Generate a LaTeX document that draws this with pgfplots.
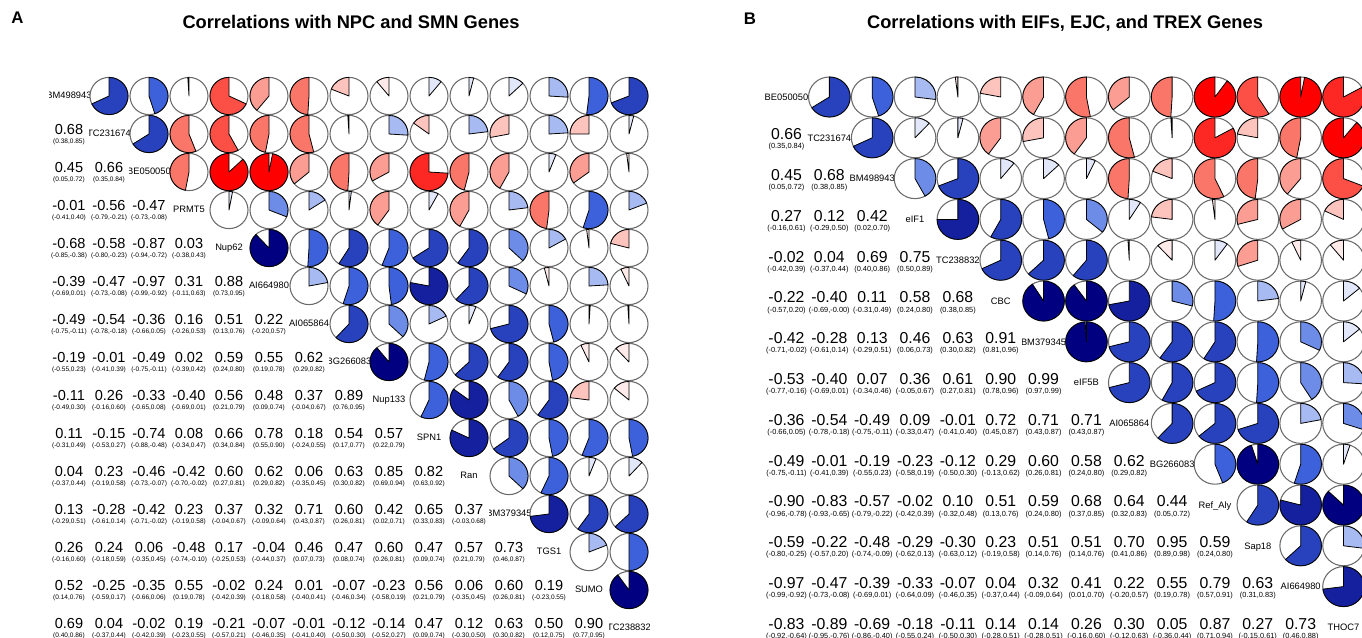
\documentclass[border=0pt]{standalone}
\usepackage{fontspec}
\setmainfont{Liberation Sans}
\usepackage{pgfplots}
\usepackage{pgfplotstable}
\pgfplotsset{compat=1.18}
\protected\def\us{\textunderscore}
\pgfdeclareplotmark{nothing}{}
% corrgram palette (red, salmon, white, royalblue, navy) in 14 bins
\definecolor{pc1}{RGB}{255,0,0}
\definecolor{pc2}{RGB}{253,39,35}
\definecolor{pc3}{RGB}{252,79,70}
\definecolor{pc4}{RGB}{250,118,105}
\definecolor{pc5}{RGB}{251,157,147}
\definecolor{pc6}{RGB}{253,196,190}
\definecolor{pc7}{RGB}{254,235,233}
\definecolor{pc8}{RGB}{226,232,250}
\definecolor{pc9}{RGB}{167,186,241}
\definecolor{pc10}{RGB}{109,140,232}
\definecolor{pc11}{RGB}{60,97,218}
\definecolor{pc12}{RGB}{40,65,188}
\definecolor{pc13}{RGB}{20,32,158}
\definecolor{pc14}{RGB}{0,0,128}
\newcommand\drawpie[3]{%
  \edef\pv{#1}%
  \pgfmathsetmacro\absr{abs(\pv)}%
  \pgfmathtruncatemacro\pidx{max(1,min(14,ceil((\pv+1)*7)))}%
  \draw[black!58, line width=0.8pt] (0pt,0pt) ellipse[x radius=#2, y radius=#3];
  \ifdim\absr pt>0.008pt
    \filldraw[fill=pc\pidx, draw=black, line width=0.6pt, line join=round]
      (0pt,0pt) -- (0pt,#3) arc[start angle=90, end angle={90-360*(\pv)}, x radius=#2, y radius=#3] -- cycle;
  \fi
}
\newcommand\cliplabel[3]{% half width, half height, baseline shift
  \begin{pgfscope}
  \pgfpathrectanglecorners{\pgfpoint{-#1}{-#2}}{\pgfpoint{#1}{#2}}%
  \pgfusepath{clip}%
  \node[inner sep=0pt, anchor=base, draw=none, fill=none, font=\fontsize{7pt}{8pt}\selectfont] at (0pt,#3) {\pgfplotspointmeta};
  \end{pgfscope}}
\newcommand\mkci[1]{%
  \pgfplotstablecreatecol[create col/assign/.code={%
    \getthisrow{lo}\cilo
    \getthisrow{hi}\cihi
    \edef\cientry{(\cilo,\cihi)}%
    \pgfkeyslet{/pgfplots/table/create col/next content}\cientry}]{ci}{#1}}
\pgfplotstableread{
row col r lo hi
2 1 0.68 0.38 0.85
3 1 0.45 0.05 0.72
3 2 0.66 0.35 0.84
4 1 -0.01 -0.41 0.40
4 2 -0.56 -0.79 -0.21
4 3 -0.47 -0.73 -0.08
5 1 -0.68 -0.85 -0.38
5 2 -0.58 -0.80 -0.23
5 3 -0.87 -0.94 -0.72
5 4 0.03 -0.38 0.43
6 1 -0.39 -0.69 0.01
6 2 -0.47 -0.73 -0.08
6 3 -0.97 -0.99 -0.92
6 4 0.31 -0.11 0.63
6 5 0.88 0.73 0.95
7 1 -0.49 -0.75 -0.11
7 2 -0.54 -0.78 -0.18
7 3 -0.36 -0.66 0.05
7 4 0.16 -0.26 0.53
7 5 0.51 0.13 0.76
7 6 0.22 -0.20 0.57
8 1 -0.19 -0.55 0.23
8 2 -0.01 -0.41 0.39
8 3 -0.49 -0.75 -0.11
8 4 0.02 -0.39 0.42
8 5 0.59 0.24 0.80
8 6 0.55 0.19 0.78
8 7 0.62 0.29 0.82
9 1 -0.11 -0.49 0.30
9 2 0.26 -0.16 0.60
9 3 -0.33 -0.65 0.08
9 4 -0.40 -0.69 0.01
9 5 0.56 0.21 0.79
9 6 0.48 0.09 0.74
9 7 0.37 -0.04 0.67
9 8 0.89 0.76 0.95
10 1 0.11 -0.31 0.49
10 2 -0.15 -0.53 0.27
10 3 -0.74 -0.88 -0.48
10 4 0.08 -0.34 0.47
10 5 0.66 0.34 0.84
10 6 0.78 0.55 0.90
10 7 0.18 -0.24 0.55
10 8 0.54 0.17 0.77
10 9 0.57 0.22 0.79
11 1 0.04 -0.37 0.44
11 2 0.23 -0.19 0.58
11 3 -0.46 -0.73 -0.07
11 4 -0.42 -0.70 -0.02
11 5 0.60 0.27 0.81
11 6 0.62 0.29 0.82
11 7 0.06 -0.35 0.45
11 8 0.63 0.30 0.82
11 9 0.85 0.69 0.94
11 10 0.82 0.63 0.92
12 1 0.13 -0.29 0.51
12 2 -0.28 -0.61 0.14
12 3 -0.42 -0.71 -0.02
12 4 0.23 -0.19 0.58
12 5 0.37 -0.04 0.67
12 6 0.32 -0.09 0.64
12 7 0.71 0.43 0.87
12 8 0.60 0.26 0.81
12 9 0.42 0.02 0.71
12 10 0.65 0.33 0.83
12 11 0.37 -0.03 0.68
13 1 0.26 -0.16 0.60
13 2 0.24 -0.18 0.59
13 3 0.06 -0.35 0.45
13 4 -0.48 -0.74 -0.10
13 5 0.17 -0.25 0.53
13 6 -0.04 -0.44 0.37
13 7 0.46 0.07 0.73
13 8 0.47 0.08 0.74
13 9 0.60 0.26 0.81
13 10 0.47 0.09 0.74
13 11 0.57 0.21 0.79
13 12 0.73 0.46 0.87
14 1 0.52 0.14 0.76
14 2 -0.25 -0.59 0.17
14 3 -0.35 -0.66 0.06
14 4 0.55 0.19 0.78
14 5 -0.02 -0.42 0.39
14 6 0.24 -0.18 0.58
14 7 0.01 -0.40 0.41
14 8 -0.07 -0.46 0.34
14 9 -0.23 -0.58 0.19
14 10 0.56 0.21 0.79
14 11 0.06 -0.35 0.45
14 12 0.60 0.26 0.81
14 13 0.19 -0.23 0.55
15 1 0.69 0.40 0.86
15 2 0.04 -0.37 0.44
15 3 -0.02 -0.42 0.39
15 4 0.19 -0.23 0.55
15 5 -0.21 -0.57 0.21
15 6 -0.07 -0.46 0.35
15 7 -0.01 -0.41 0.40
15 8 -0.12 -0.50 0.30
15 9 -0.14 -0.52 0.27
15 10 0.47 0.09 0.74
15 11 0.12 -0.30 0.50
15 12 0.63 0.30 0.82
15 13 0.50 0.12 0.75
15 14 0.90 0.77 0.95
}\corrA
\pgfplotstableread{
row col r lo hi
2 1 0.66 0.35 0.84
3 1 0.45 0.05 0.72
3 2 0.68 0.38 0.85
4 1 0.27 -0.16 0.61
4 2 0.12 -0.29 0.50
4 3 0.42 0.02 0.70
5 1 -0.02 -0.42 0.39
5 2 0.04 -0.37 0.44
5 3 0.69 0.40 0.86
5 4 0.75 0.50 0.89
6 1 -0.22 -0.57 0.20
6 2 -0.40 -0.69 -0.00
6 3 0.11 -0.31 0.49
6 4 0.58 0.24 0.80
6 5 0.68 0.38 0.85
7 1 -0.42 -0.71 -0.02
7 2 -0.28 -0.61 0.14
7 3 0.13 -0.29 0.51
7 4 0.46 0.06 0.73
7 5 0.63 0.30 0.82
7 6 0.91 0.81 0.96
8 1 -0.53 -0.77 -0.16
8 2 -0.40 -0.69 0.01
8 3 0.07 -0.34 0.46
8 4 0.36 -0.05 0.67
8 5 0.61 0.27 0.81
8 6 0.90 0.78 0.96
8 7 0.99 0.97 0.99
9 1 -0.36 -0.66 0.05
9 2 -0.54 -0.78 -0.18
9 3 -0.49 -0.75 -0.11
9 4 0.09 -0.33 0.47
9 5 -0.01 -0.41 0.40
9 6 0.72 0.45 0.87
9 7 0.71 0.43 0.87
9 8 0.71 0.43 0.87
10 1 -0.49 -0.75 -0.11
10 2 -0.01 -0.41 0.39
10 3 -0.19 -0.55 0.23
10 4 -0.23 -0.58 0.19
10 5 -0.12 -0.50 0.30
10 6 0.29 -0.13 0.62
10 7 0.60 0.26 0.81
10 8 0.58 0.24 0.80
10 9 0.62 0.29 0.82
11 1 -0.90 -0.96 -0.78
11 2 -0.83 -0.93 -0.65
11 3 -0.57 -0.79 -0.22
11 4 -0.02 -0.42 0.39
11 5 0.10 -0.32 0.48
11 6 0.51 0.13 0.76
11 7 0.59 0.24 0.80
11 8 0.68 0.37 0.85
11 9 0.64 0.32 0.83
11 10 0.44 0.05 0.72
12 1 -0.59 -0.80 -0.25
12 2 -0.22 -0.57 0.20
12 3 -0.48 -0.74 -0.09
12 4 -0.29 -0.62 0.13
12 5 -0.30 -0.63 0.12
12 6 0.23 -0.19 0.58
12 7 0.51 0.14 0.76
12 8 0.51 0.14 0.76
12 9 0.70 0.41 0.86
12 10 0.95 0.89 0.98
12 11 0.59 0.24 0.80
13 1 -0.97 -0.99 -0.92
13 2 -0.47 -0.73 -0.08
13 3 -0.39 -0.69 0.01
13 4 -0.33 -0.64 0.09
13 5 -0.07 -0.46 0.35
13 6 0.04 -0.37 0.44
13 7 0.32 -0.09 0.64
13 8 0.41 0.01 0.70
13 9 0.22 -0.20 0.57
13 10 0.55 0.19 0.78
13 11 0.79 0.57 0.91
13 12 0.63 0.31 0.83
14 1 -0.83 -0.92 -0.64
14 2 -0.89 -0.95 -0.76
14 3 -0.69 -0.86 -0.40
14 4 -0.18 -0.55 0.24
14 5 -0.11 -0.50 0.30
14 6 0.14 -0.28 0.51
14 7 0.14 -0.28 0.51
14 8 0.26 -0.16 0.60
14 9 0.30 -0.12 0.63
14 10 0.05 -0.36 0.44
14 11 0.87 0.71 0.94
14 12 0.27 -0.15 0.61
14 13 0.73 0.46 0.88
}\corrB
\mkci{\corrA}
\mkci{\corrB}
\pgfplotstableread{
idx name
1 BM498943
2 TC231674
3 BE050050
4 PRMT5
5 Nup62
6 AI664980
7 AI065864
8 BG266083
9 Nup133
10 SPN1
11 Ran
12 BM379345
13 TGS1
14 SUMO
15 TC238832
}\labA
\pgfplotstableread{
idx name
1 BE050050
2 TC231674
3 BM498943
4 eIF1
5 TC238832
6 CBC
7 BM379345
8 eIF5B
9 AI065864
10 BG266083
11 Ref\us{}Aly
12 Sap18
13 AI664980
14 THOC7
}\labB
\pgfplotsset{
  corrax/.style={scale only axis, hide axis, clip=false, y dir=reverse},
  symplot/.style={scatter, only marks, mark=nothing, point meta=explicit symbolic,
    scatter/@post marker code/.code={}},
}
\begin{document}
\begin{tikzpicture}
\useasboundingbox (0pt,0pt) rectangle (1021.5pt,477.75pt);
\clip (0pt,0pt) rectangle (1021.5pt,477.75pt);
% titles
\node[anchor=base, inner sep=0pt, font=\fontsize{12.6pt}{14pt}\selectfont\bfseries] at (13.1pt,459.75pt) {A};
\node[anchor=base, inner sep=0pt, font=\fontsize{12.6pt}{14pt}\selectfont\bfseries] at (562.5pt,459pt) {B};
\node[anchor=base, inner sep=0pt, font=\fontsize{13.7pt}{16pt}\selectfont\bfseries] at (263.25pt,456.4pt) {Correlations with NPC and SMN Genes};
\node[anchor=base, inner sep=0pt, font=\fontsize{13.7pt}{16pt}\selectfont\bfseries] at (798.75pt,456.2pt) {Correlations with EIFs, EJC, and TREX Genes};
% ---------------- Panel A
\begin{axis}[corrax, at={(36.75pt,420pt)}, anchor=north west,
  width=450pt, height=427.5pt, xmin=0.5, xmax=15.5, ymin=0.5, ymax=15.5]
\addplot[symplot,
  scatter/@pre marker code/.code={\cliplabel{15pt}{14.25pt}{-2pt}}]
  table[x=idx, y=idx, meta=name] {\labA};
\addplot[symplot,
  scatter/@pre marker code/.code={\drawpie{\pgfplotspointmeta}{14.25pt}{13.95pt}}]
  table[x=row, y=col, meta=r] {\corrA};
\addplot[symplot,
  scatter/@pre marker code/.code={%
    \node[inner sep=0pt, anchor=base, font=\fontsize{10.9pt}{12pt}\selectfont] at (0pt,-0.4pt) {\pgfplotspointmeta};}]
  table[x=col, y=row, meta=r] {\corrA};
\addplot[symplot,
  scatter/@pre marker code/.code={%
    \node[inner sep=0pt, anchor=base, font=\fontsize{4.9pt}{6pt}\selectfont] at (0pt,-6.75pt) {\pgfplotspointmeta};}]
  table[x=col, y=row, meta=ci] {\corrA};
\end{axis}
% ---------------- Panel B
\begin{axis}[corrax, at={(573.8pt,420.3pt)}, anchor=north west,
  width=449.9pt, height=428.4pt, xmin=0.5, xmax=14.5, ymin=0.5, ymax=14.5]
\addplot[symplot,
  scatter/@pre marker code/.code={\cliplabel{16.07pt}{15.3pt}{-2.5pt}}]
  table[x=idx, y=idx, meta=name] {\labB};
\addplot[symplot,
  scatter/@pre marker code/.code={\drawpie{\pgfplotspointmeta}{15.6pt}{15pt}}]
  table[x=row, y=col, meta=r] {\corrB};
\addplot[symplot,
  scatter/@pre marker code/.code={%
    \node[inner sep=0pt, anchor=base, font=\fontsize{11.85pt}{13pt}\selectfont] at (0pt,-1.46pt) {\pgfplotspointmeta};}]
  table[x=col, y=row, meta=r] {\corrB};
\addplot[symplot,
  scatter/@pre marker code/.code={%
    \node[inner sep=0pt, anchor=base, font=\fontsize{5.55pt}{6.5pt}\selectfont] at (0pt,-8.36pt) {\pgfplotspointmeta};}]
  table[x=col, y=row, meta=ci] {\corrB};
\end{axis}
\end{tikzpicture}
\end{document}
